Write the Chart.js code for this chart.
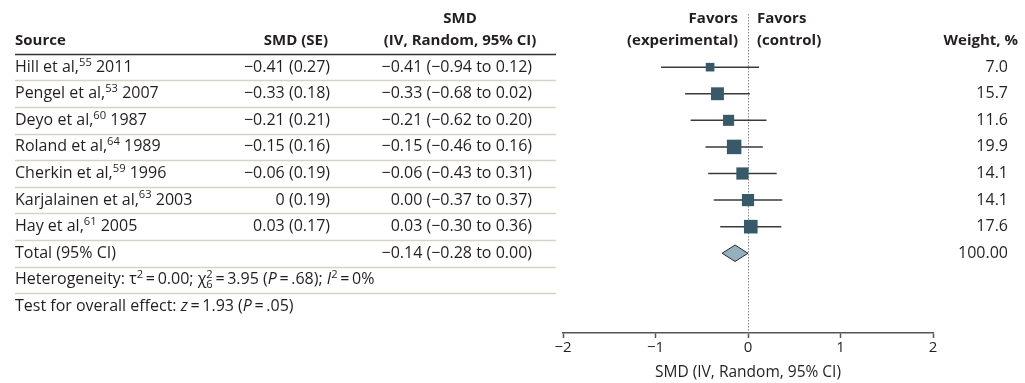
<!DOCTYPE html>
<html>
<head>
<meta charset="utf-8">
<script src="https://cdn.jsdelivr.net/npm/chart.js@4.4.0/dist/chart.umd.min.js"></script>
<style>
  body { margin: 0; background: #fff; }
  canvas { display: block; }
</style>
</head>
<body>
<canvas id="forest" width="1025" height="383"></canvas>
<script>
// datos del forest plot
const autores = ["Hill et al,", "Pengel et al,", "Deyo et al,", "Roland et al,", "Cherkin et al,", "Karjalainen et al,", "Hay et al,"];
const referencias = ["55", "53", "60", "64", "59", "63", "61"];
const anios = ["2011", "2007", "1987", "1989", "1996", "2003", "2005"];
const smd = [-0.41, -0.33, -0.21, -0.15, -0.06, 0, 0.03];
const se = [0.27, 0.18, 0.21, 0.16, 0.19, 0.19, 0.17];
const ciInf = [-0.94, -0.68, -0.62, -0.46, -0.43, -0.37, -0.30];
const ciSup = [0.12, 0.02, 0.20, 0.16, 0.31, 0.37, 0.36];
const pesos = [7.0, 15.7, 11.6, 19.9, 14.1, 14.1, 17.6];

const total = [-0.14, -0.28, 0.00]; // estimado, inferior, superior
const pesoTotal = "100.00";
const heterogeneidad = ["0.00", "3.95", "6", ".68", "0"]; // tau2, chi2, gl, P, I2
const efectoGlobal = ["1.93", ".05"]; // z, P
const ticksX = [-2, -1, 0, 1, 2];

const FAMILIA = '"Open Sans", "Roboto", sans-serif';
const TAM = 16;      // texto de las filas
const TAM_ENC = 15;  // encabezados en negrita
const COLOR_TEXTO = "#231f20";
const filaTotal = autores.length;   // 7
const filaHet = filaTotal + 1;      // 8
const filaTest = filaTotal + 2;     // 9

const menos = v => (v < 0 ? "\u2212" + Math.abs(v).toFixed(2) : v.toFixed(2));
const sp = "\u2009=\u2009";

function fuente(size, bold, italic) {
    return (italic ? "italic " : "") + (bold ? "bold " : "") + size + "px " + FAMILIA;
}

function anchoRico(ctx, partes, size, bold) {
    let w = 0;
    partes.forEach(p => {
        if (p.sup || p.sub) {
            ctx.font = fuente(size * 0.7, bold);
            w += Math.max(ctx.measureText(p.sup || "").width, ctx.measureText(p.sub || "").width);
        } else {
            ctx.font = fuente(size, bold, p.it);
            w += ctx.measureText(p.t).width;
        }
    });
    return w;
}

function textoRico(ctx, partes, x, y, align, size, bold) {
    size = size || TAM;
    let cx = x;
    if (align === "right") cx = x - anchoRico(ctx, partes, size, bold);
    if (align === "center") cx = x - anchoRico(ctx, partes, size, bold) / 2;
    ctx.textAlign = "left";
    ctx.textBaseline = "middle";
    partes.forEach(p => {
        if (p.sup || p.sub) {
            ctx.font = fuente(size * 0.7, bold);
            let w = 0;
            if (p.sup) {
                ctx.fillText(p.sup, cx, y - size * 0.3);
                w = ctx.measureText(p.sup).width;
            }
            if (p.sub) {
                ctx.fillText(p.sub, cx, y + size * 0.3);
                w = Math.max(w, ctx.measureText(p.sub).width);
            }
            cx += w;
        } else {
            ctx.font = fuente(size, bold, p.it);
            ctx.fillText(p.t, cx, y);
            cx += ctx.measureText(p.t).width;
        }
    });
}

// plugin que dibuja la tabla de texto alineada con las filas del eje y
const tablaPlugin = {
    id: "tabla",
    beforeDatasetsDraw(chart) {
        const ctx = chart.ctx;
        const y = chart.scales.y;
        const x = chart.scales.x;
        ctx.save();
        // separadores de filas
        ctx.strokeStyle = "#d6d2c4";
        ctx.lineWidth = 1.5;
        for (let i = 0; i <= filaHet; i++) {
            const py = Math.round(y.getPixelForValue(i + 0.5)) + 0.5;
            ctx.beginPath();
            ctx.moveTo(15, py);
            ctx.lineTo(556, py);
            ctx.stroke();
        }
        // linea bajo el encabezado
        ctx.strokeStyle = "#333";
        const hy = Math.round(y.getPixelForValue(-0.5)) + 0.5;
        ctx.beginPath();
        ctx.moveTo(15, hy);
        ctx.lineTo(556, hy);
        ctx.stroke();
        // linea punteada en cero
        const x0 = Math.round(x.getPixelForValue(0)) + 0.5;
        ctx.strokeStyle = "#8a8a8a";
        ctx.lineWidth = 1;
        ctx.setLineDash([1.5, 1.5]);
        ctx.beginPath();
        ctx.moveTo(x0, chart.chartArea.top);
        ctx.lineTo(x0, chart.chartArea.bottom);
        ctx.stroke();
        ctx.restore();
    },
    afterDraw(chart) {
        const ctx = chart.ctx;
        const y = chart.scales.y;
        ctx.save();
        ctx.fillStyle = COLOR_TEXTO;

        // encabezados
        const yH = y.getPixelForValue(-1);
        const yH2 = y.getPixelForValue(-1.84);
        textoRico(ctx, [{ t: "Source" }], 15, yH, "left", TAM_ENC, true);
        textoRico(ctx, [{ t: "SMD (SE)" }], 328, yH, "right", TAM_ENC, true);
        textoRico(ctx, [{ t: "SMD" }], 460, yH2, "center", TAM_ENC, true);
        textoRico(ctx, [{ t: "(IV, Random, 95% CI)" }], 460, yH, "center", TAM_ENC, true);
        textoRico(ctx, [{ t: "Favors" }], 738, yH2, "right", TAM_ENC, true);
        textoRico(ctx, [{ t: "(experimental)" }], 738, yH, "right", TAM_ENC, true);
        textoRico(ctx, [{ t: "Favors" }], 757, yH2, "left", TAM_ENC, true);
        textoRico(ctx, [{ t: "(control)" }], 757, yH, "left", TAM_ENC, true);
        textoRico(ctx, [{ t: "Weight, %" }], 1018, yH, "right", TAM_ENC, true);

        // filas de estudios
        autores.forEach((a, i) => {
            const py = y.getPixelForValue(i);
            textoRico(ctx, [{ t: a }, { sup: referencias[i] }, { t: " " + anios[i] }], 15, py, "left");
            const est = smd[i] === 0 ? "0" : menos(smd[i]);
            textoRico(ctx, [{ t: est + " (" + se[i].toFixed(2) + ")" }], 330, py, "right");
            textoRico(ctx, [{ t: menos(smd[i]) + " (" + menos(ciInf[i]) + " to " + menos(ciSup[i]) + ")" }], 532, py, "right");
            textoRico(ctx, [{ t: pesos[i].toFixed(1) }], 1008, py, "right");
        });

        // total
        const pt = y.getPixelForValue(filaTotal);
        textoRico(ctx, [{ t: "Total (95% CI)" }], 15, pt, "left");
        textoRico(ctx, [{ t: menos(total[0]) + " (" + menos(total[1]) + " to " + menos(total[2]) + ")" }], 532, pt, "right");
        textoRico(ctx, [{ t: pesoTotal }], 1008, pt, "right");

        // heterogeneidad y efecto global
        textoRico(ctx, [
            { t: "Heterogeneity: \u03c4" }, { sup: "2" }, { t: sp + heterogeneidad[0] + "; \u03c7" },
            { sup: "2", sub: heterogeneidad[2] }, { t: sp + heterogeneidad[1] + " (" },
            { t: "P", it: true }, { t: sp + heterogeneidad[3] + "); " },
            { t: "I", it: true }, { sup: "2" }, { t: sp + heterogeneidad[4] + "%" }
        ], 15, y.getPixelForValue(filaHet), "left");
        textoRico(ctx, [
            { t: "Test for overall effect: " }, { t: "z", it: true }, { t: sp + efectoGlobal[0] + " (" },
            { t: "P", it: true }, { t: sp + efectoGlobal[1] + ")" }
        ], 15, y.getPixelForValue(filaTest), "left");
        ctx.restore();
    }
};

// segmentos de los intervalos de confianza (separados con huecos)
const segmentosIC = [];
smd.forEach((v, i) => {
    segmentosIC.push({ x: ciInf[i], y: i }, { x: ciSup[i], y: i }, { x: null, y: null });
});

const altoRombo = 0.31;
const rombo = [
    { x: total[1], y: filaTotal },
    { x: total[0], y: filaTotal - altoRombo },
    { x: total[2], y: filaTotal },
    { x: total[0], y: filaTotal + altoRombo },
    { x: total[1], y: filaTotal }
];

const ctx = document.getElementById("forest").getContext("2d");
const chart = new Chart(ctx, {
    type: "scatter",
    data: {
        datasets: [
            {
                label: "SMD",
                data: smd.map((v, i) => ({ x: v, y: i })),
                pointStyle: "rect",
                pointRadius: c => 3.25 * Math.sqrt(pesos[c.dataIndex]) / Math.SQRT2,
                backgroundColor: "#385967",
                borderColor: "#385967",
                borderWidth: 0,
                order: 0
            },
            {
                label: "Total",
                data: rombo,
                showLine: true,
                fill: "shape",
                tension: 0,
                pointRadius: 0,
                backgroundColor: "#93b0bc",
                borderColor: "#2b2b2b",
                borderWidth: 1,
                order: 1
            },
            {
                label: "IC 95%",
                data: segmentosIC,
                showLine: true,
                spanGaps: false,
                pointRadius: 0,
                borderColor: "#3a3a3a",
                borderWidth: 1.5,
                order: 2
            }
        ]
    },
    options: {
        responsive: false,
        animation: false,
        layout: { padding: { left: 563, right: 92, top: 14, bottom: 0 } },
        plugins: {
            legend: { display: false },
            tooltip: { enabled: false }
        },
        scales: {
            x: {
                type: "linear",
                min: -2,
                max: 2,
                afterBuildTicks: s => { s.ticks = ticksX.map(v => ({ value: v })); },
                afterFit: s => { s.height = 50; },
                grid: { drawOnChartArea: false, tickLength: 5, tickColor: "#555", tickWidth: 1.5 },
                border: { color: "#555", width: 1.5 },
                ticks: {
                    padding: 1,
                    color: COLOR_TEXTO,
                    font: { family: FAMILIA, size: 15 },
                    callback: v => (v < 0 ? "\u2212" + Math.abs(v) : String(v))
                },
                title: {
                    display: true,
                    text: "SMD (IV, Random, 95% CI)",
                    color: COLOR_TEXTO,
                    font: { family: FAMILIA, size: 15.5 },
                    padding: { top: 0, bottom: 1 }
                }
            },
            y: {
                type: "linear",
                min: -2,
                max: 10,
                reverse: true,
                display: false
            }
        }
    },
    plugins: [tablaPlugin]
});
</script>
</body>
</html>
